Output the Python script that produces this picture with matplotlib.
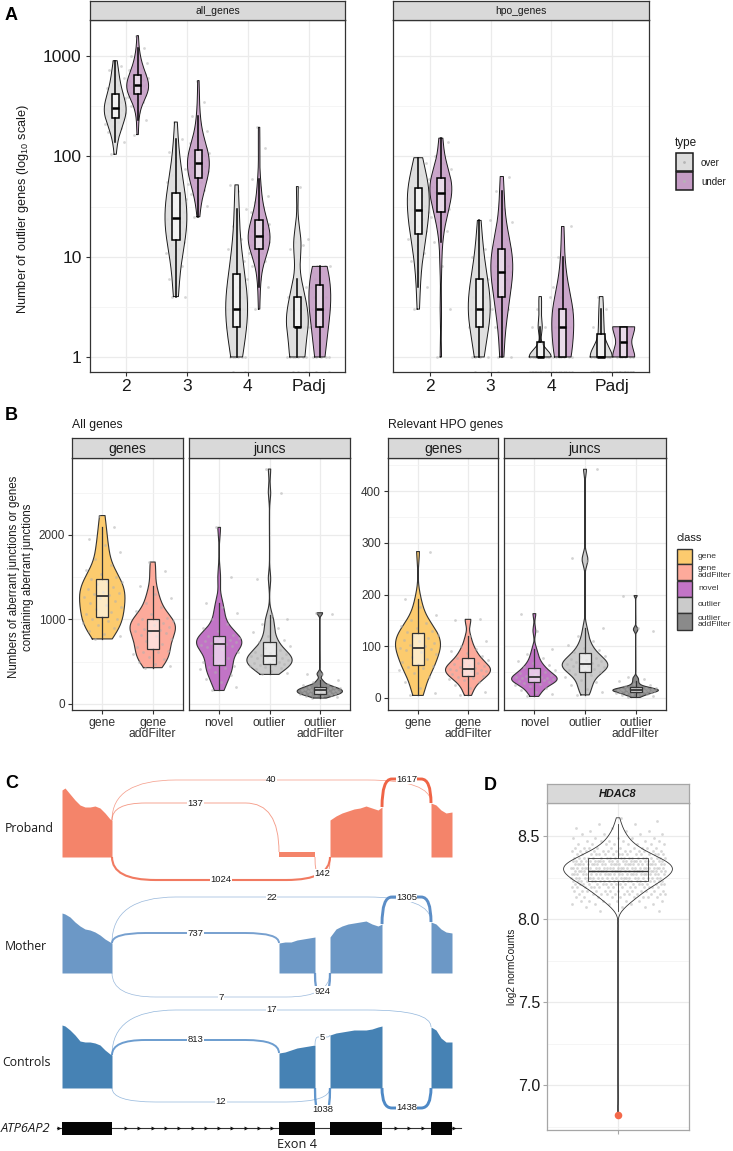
import numpy as np
import matplotlib
matplotlib.use("Agg")
import matplotlib.pyplot as plt
from matplotlib.patches import Rectangle, PathPatch
from matplotlib.path import Path
from matplotlib.ticker import FuncFormatter

plt.rcParams['font.family'] = ['Liberation Sans', 'DejaVu Sans']
plt.rcParams['mathtext.fontset'] = 'custom'
plt.rcParams['mathtext.rm'] = 'Liberation Sans'

W, H = 733, 1151

# ---------------- data: panel A (number of outlier genes per sample) ----------------
cutoffs = ['2', '3', '4', 'Padj']
all_genes_over = [
    [105, 140, 160, 175, 190, 200, 210, 220, 230, 240, 245, 250, 260, 265, 270, 280, 285, 290, 295, 300,
     305, 310, 320, 330, 340, 350, 360, 380, 400, 420, 430, 450, 480, 520, 560, 600, 650, 720, 800, 900],
    [4, 4, 5, 6, 8, 10, 11, 12, 13, 14, 15, 16, 17, 18, 19, 20, 21, 22, 23, 24,
     25, 26, 28, 30, 32, 34, 36, 38, 40, 42, 45, 50, 55, 60, 65, 75, 90, 110, 150, 220],
    [0, 0, 1, 1, 1, 1, 1, 1, 2, 2, 2, 2, 2, 2, 2, 3, 3, 3, 3, 3,
     3, 3, 4, 4, 4, 5, 5, 5, 6, 6, 7, 8, 9, 10, 12, 15, 20, 30, 45, 52],
    [0, 0, 0, 1, 1, 1, 1, 1, 1, 1, 2, 2, 2, 2, 2, 2, 2, 2, 3, 3, 3, 3, 4, 4, 4, 5, 6, 12, 13, 14, 15, 50],
]
all_genes_under = [
    [165, 230, 280, 320, 350, 370, 390, 400, 405, 410, 420, 430, 445, 460, 470, 480, 490, 500, 505, 510,
     515, 520, 530, 545, 560, 575, 590, 610, 630, 650, 660, 690, 720, 760, 800, 850, 920, 1000, 1200, 1600],
    [25, 32, 38, 42, 46, 50, 53, 55, 58, 60, 62, 65, 68, 70, 72, 75, 78, 80, 82, 85,
     87, 90, 93, 96, 100, 103, 106, 109, 112, 115, 120, 128, 135, 145, 160, 180, 210, 250, 350, 570],
    [3, 5, 6, 8, 9, 10, 11, 11, 12, 12, 12, 13, 13, 14, 14, 15, 15, 15, 16, 16,
     16, 17, 17, 18, 18, 19, 20, 21, 22, 23, 24, 26, 28, 31, 35, 40, 50, 60, 120, 195],
    [0, 0, 1, 1, 1, 1, 1, 2, 2, 2, 2, 2, 3, 3, 3, 3, 3, 4, 4, 4, 5, 5, 5, 6, 6, 7, 7, 8, 8, 8],
]
hpo_genes_over = [
    [3, 5, 7, 9, 11, 13, 15, 16, 17, 18, 20, 22, 24, 26, 28, 29, 30, 32, 35, 38,
     40, 44, 47, 48, 50, 52, 55, 60, 65, 75, 85, 97],
    [0, 0, 1, 1, 1, 1, 2, 2, 2, 2, 2, 2, 3, 3, 3, 3, 3, 4, 4, 4, 5, 5, 6, 6, 6, 8, 10, 12, 15, 23],
    [0] * 13 + [1] * 11 + [2, 2, 3, 4],
    [0] * 14 + [1] * 10 + [2, 2, 3, 4],
]
hpo_genes_under = [
    [1, 3, 8, 14, 18, 22, 25, 27, 28, 30, 33, 36, 38, 40, 42, 43, 44, 46, 48, 50,
     53, 56, 58, 60, 62, 65, 70, 75, 85, 100, 140, 152],
    [0, 1, 1, 2, 2, 3, 3, 3, 4, 4, 5, 5, 6, 6, 7, 7, 7, 8, 8, 9,
     10, 10, 11, 12, 12, 13, 15, 18, 22, 30, 45, 63],
    [0] * 8 + [1] * 7 + [2] * 6 + [3] * 5 + [4, 5, 6, 10, 20],
    [0] * 16 + [1] * 6 + [2] * 6,
]

# ---------------- data: panel B (aberrant junctions / genes per sample) ----------------
b_classes = ['gene', 'gene\naddFilter', 'novel', 'outlier', 'outlier\naddFilter']
b_all_genes = [
    [770, 800, 830, 860, 900, 930, 960, 980, 1000, 1010, 1030, 1060, 1090, 1120, 1150, 1170, 1190, 1220, 1250, 1270,
     1290, 1300, 1310, 1330, 1360, 1390, 1420, 1440, 1460, 1480, 1500, 1540, 1580, 1640, 1720, 1800, 1880, 1950, 2100, 2230],
    [430, 450, 470, 500, 530, 560, 590, 610, 620, 630, 650, 680, 710, 740, 770, 800, 820, 840, 850, 860,
     870, 890, 910, 930, 950, 960, 970, 980, 990, 1000, 1020, 1060, 1100, 1150, 1200, 1250, 1300, 1400, 1570, 1680],
    [160, 200, 260, 300, 340, 380, 410, 430, 440, 450, 470, 500, 540, 580, 620, 650, 670, 690, 700, 700,
     710, 720, 730, 740, 750, 760, 770, 780, 790, 800, 820, 860, 900, 950, 1000, 1080, 1150, 1200, 1500, 2090],
    [350, 370, 390, 410, 430, 440, 450, 460, 465, 470, 480, 490, 500, 510, 520, 530, 540, 550, 560, 570,
     575, 580, 590, 600, 620, 640, 660, 690, 710, 730, 760, 800, 850, 900, 950, 1000, 1050, 1480, 2500, 2780],
    [70, 80, 90, 100, 105, 110, 115, 118, 120, 122, 125, 130, 135, 140, 145, 150, 152, 155, 158, 160,
     162, 165, 170, 175, 180, 185, 190, 195, 198, 200, 205, 215, 225, 240, 260, 280, 350, 360, 1070, 1080],
]
b_hpo_genes = [
    [5, 10, 20, 30, 40, 48, 55, 58, 60, 62, 65, 70, 75, 80, 85, 88, 92, 95, 96, 97,
     100, 103, 106, 110, 113, 116, 119, 122, 125, 127, 130, 135, 140, 145, 150, 160, 175, 192, 283],
    [5, 12, 20, 25, 30, 34, 37, 39, 41, 42, 44, 46, 48, 50, 52, 53, 54, 55, 56, 57,
     58, 60, 62, 64, 66, 68, 70, 73, 76, 78, 82, 86, 90, 95, 100, 110, 120, 150, 152],
    [3, 8, 12, 16, 20, 23, 26, 28, 29, 30, 31, 33, 34, 35, 36, 37, 38, 39, 40, 40,
     41, 43, 45, 47, 49, 51, 53, 55, 58, 60, 63, 67, 72, 78, 85, 95, 130, 163],
    [6, 12, 18, 25, 30, 35, 40, 44, 47, 50, 52, 54, 56, 58, 60, 61, 62, 63, 64, 65,
     67, 69, 71, 73, 75, 77, 79, 82, 85, 88, 92, 97, 103, 110, 120, 135, 265, 270, 442],
    [1, 3, 5, 6, 7, 8, 9, 10, 10, 11, 12, 12, 13, 13, 14, 14, 15, 15, 15, 16,
     16, 17, 17, 18, 18, 19, 20, 20, 21, 23, 25, 28, 32, 36, 40, 130, 135, 198],
]

# ---------------- data: panel C (sashimi plot ATP6AP2) ----------------
exon_start = [62, 279, 330, 431]
exon_end = [112, 315, 382, 452]
cov_pos = [
    [62, 65, 70, 75, 80, 85, 90, 95, 100, 105, 110, 112],
    [279, 285, 291, 297, 303, 309, 315],
    [330, 336, 342, 348, 354, 360, 366, 372, 378, 382],
    [431, 436, 441, 446, 452],
]
cov_proband = [
    [67, 69, 63, 57, 52, 50, 50, 51, 49, 44, 38, 37],
    [5, 5, 5, 5, 5, 5, 5],
    [37, 41, 44, 46, 48, 49, 51, 49, 47, 50],
    [54, 52, 47, 44, 45],
]
cov_mother = [
    [60, 59, 56, 51, 47, 44, 43, 41, 38, 34, 31, 30],
    [30, 31, 31, 33, 34, 35, 36],
    [36, 44, 47, 49, 50, 51, 52, 49, 47, 49],
    [51, 49, 44, 41, 40],
]
cov_controls = [
    [63, 62, 58, 53, 47, 46, 46, 45, 43, 38, 34, 33],
    [35, 36, 38, 40, 41, 42, 43],
    [53, 55, 56, 57, 58, 58, 58, 59, 61, 62],
    [61, 58, 50, 46, 46],
]
junc_proband = [(112, 431, 40), (112, 279, 137), (382, 431, 1617), (112, 330, 1024), (315, 330, 142)]
junc_mother = [(112, 431, 22), (112, 279, 737), (382, 431, 1305), (112, 330, 7), (315, 330, 924)]
junc_controls = [(112, 431, 17), (112, 279, 813), (315, 330, 5), (112, 330, 12), (315, 330, 1038), (382, 431, 1438)]
# arc heights (layout, positive = above the track)
arc_lvl_proband = [77, 54, 78, -23, -17]
arc_lvl_mother = [76, 40, 76, -24, -18]
arc_lvl_controls = [78, 48, 51, -14, -22, -20]

# ---------------- data: panel D (HDAC8 expression) ----------------
hdac8_values = [8.05, 8.07, 8.09, 8.11, 8.13, 8.15, 8.17, 8.19, 8.21, 8.23, 8.25, 8.27, 8.29, 8.31, 8.33,
                8.35, 8.37, 8.39, 8.41, 8.43, 8.45, 8.47, 8.49, 8.51, 8.53, 8.55, 8.57, 8.59, 8.61]
hdac8_counts = [2, 3, 5, 7, 9, 11, 13, 15, 18, 21, 23, 25, 27, 27, 26,
                23, 20, 16, 13, 10, 8, 6, 5, 4, 3, 2, 2, 1, 1]
hdac8_proband = 6.82


fig = plt.figure(figsize=(W / 100, H / 100), dpi=100)


def frect(x0, y0, x1, y1):
    return [x0 / W, 1 - y1 / H, (x1 - x0) / W, (y1 - y0) / H]


def ftext(x, y, s, **kw):
    fig.text(x / W, 1 - y / H, s, **kw)


def strip(x0, y0, x1, y1, label, size, edge='#333333', **kw):
    s = fig.add_axes(frect(x0, y0, x1, y1))
    s.set_facecolor('#D9D9D9')
    s.set_xticks([])
    s.set_yticks([])
    for sp in s.spines.values():
        sp.set_color(edge)
        sp.set_linewidth(0.9)
    s.text(0.5, 0.45, label, ha='center', va='center', fontsize=size,
           color='#1A1A1A', transform=s.transAxes, **kw)


def panel(ax, edge='#333333'):
    for sp in ax.spines.values():
        sp.set_color(edge)
        sp.set_linewidth(0.9)
    ax.grid(True, which='major', color='#EBEBEB', lw=0.9)
    ax.grid(True, which='minor', axis='y', color='#F2F2F2', lw=0.5)
    ax.set_axisbelow(True)
    ax.tick_params(which='major', length=3, width=0.8, color='#333333', pad=2)
    ax.tick_params(which='minor', length=0)


def nrd0(v):
    sd = v.std(ddof=1) if len(v) > 1 else 0.0
    q75, q25 = np.percentile(v, [75, 25])
    lo = min(sd, (q75 - q25) / 1.34)
    if lo <= 0:
        lo = sd if sd > 0 else 1.0
    return 0.9 * lo * len(v) ** -0.2


def violin(ax, x, v, hw, face, alpha, edge, lw, adjust=1.0):
    v = np.asarray(v, float)
    yy = np.linspace(v.min(), v.max(), 512)
    bw = nrd0(v) * adjust
    d = np.exp(-0.5 * ((yy[:, None] - v[None, :]) / bw) ** 2).sum(axis=1)
    w = hw * d / d.max()
    ax.fill_betweenx(yy, x - w, x + w, facecolor=face, alpha=alpha, lw=0, zorder=3)
    ax.plot(np.r_[x - w, (x + w)[::-1], x - w[0]], np.r_[yy, yy[::-1], yy[0]],
            color=edge, lw=lw, zorder=3.5)


def box(ax, x, v, width, edge, lw, med_lw, fill=(1, 1, 1, 0.6)):
    ax.boxplot([v], positions=[x], widths=width, whis=1.5, showfliers=False, showcaps=False,
               patch_artist=True, manage_ticks=False, zorder=4,
               boxprops=dict(facecolor=fill, edgecolor=edge, linewidth=lw),
               whiskerprops=dict(color=edge, linewidth=lw),
               medianprops=dict(color=edge, linewidth=med_lw))


def jitter(n, center, spread):
    return center + ((np.arange(n) * 0.6180339887 + 0.31) % 1 - 0.5) * 2 * spread


# ======================= panel A =======================
over_col, under_col = '#DCDCDC', '#C59CC5'
ylo, yhi = -0.15, 3.36
for x0, x1, name, over, under, adj in [(90, 345, 'all_genes', all_genes_over, all_genes_under, 1.5),
                                       (393, 649, 'hpo_genes', hpo_genes_over, hpo_genes_under, 1.25)]:
    ax = fig.add_axes(frect(x0, 20, x1, 372))
    strip(x0, 1, x1, 20, name, 7.5)
    panel(ax)
    ax.set_xlim(0.4, 4.6)
    ax.set_ylim(ylo, yhi)
    ax.set_xticks(range(1, 5))
    ax.set_xticklabels(cutoffs, fontsize=12.5, color='#1A1A1A')
    ax.set_yticks([0, 1, 2, 3])
    ax.set_yticks([0.5, 1.5, 2.5], minor=True)
    ax.yaxis.set_major_formatter(FuncFormatter(lambda v, p: f'{10 ** v:g}'))
    ax.tick_params(axis='y', labelsize=12.5, labelcolor='#1A1A1A', pad=3)
    if name == 'hpo_genes':
        ax.tick_params(axis='y', left=False, labelleft=False)
    for i in range(4):
        for off, vals, col in [(-0.185, over[i], over_col), (0.185, under[i], under_col)]:
            arr = np.asarray(vals, float)
            ly = np.log10(arr[arr > 0])
            nz = int((arr == 0).sum())
            xc = i + 1 + off
            ax.scatter(jitter(len(ly), xc, 0.17), ly, s=4, color='#B5B5B5', alpha=0.55,
                       lw=0, zorder=2.5)
            if nz:
                ax.scatter(jitter(nz, xc, 0.17), np.full(nz, ylo), s=4, color='#B5B5B5',
                           alpha=0.55, lw=0, zorder=2.5)
            violin(ax, xc, ly, 0.18, col, 0.9, '#1A1A1A', 0.7, adjust=adj)
            box(ax, xc, ly, 0.12, '#000000', 1.1, 1.8)

ftext(23, 209, 'Number of outlier genes (log$_{10}$ scale)', rotation=90, ha='center',
      va='center', fontsize=9.2, color='#1A1A1A')

# legend A
lg = fig.add_axes(frect(660, 130, 733, 200))
lg.set_xlim(660, 733)
lg.set_ylim(200, 130)
lg.axis('off')
lg.text(675, 143, 'type', fontsize=8.5, va='center', color='#1A1A1A')
for yk, col, lab in [(153, over_col, 'over'), (172, under_col, 'under')]:
    lg.add_patch(Rectangle((675.5, yk), 17, 18, facecolor=col, edgecolor='#1A1A1A', lw=1.1))
    lg.scatter([684], [yk + 9], s=4, color='#B5B5B5', lw=0, zorder=3)
    lg.text(701, yk + 10, lab, fontsize=7, va='center', color='#1A1A1A')

# ======================= panel B =======================
b_colors = ['#FCCB6E', '#FDAA9B', '#C274C6', '#CBCBCB', '#8A8A8A']
b_layout = [
    (b_all_genes, 'All genes', [(72, 183, 'genes', [0, 1]), (189, 350, 'juncs', [2, 3, 4])],
     (-71, 2911), [0, 1000, 2000], [500, 1500, 2500]),
    (b_hpo_genes, 'Relevant HPO genes', [(388, 498, 'genes', [0, 1]), (504, 666, 'juncs', [2, 3, 4])],
     (-23.2, 463.8), [0, 100, 200, 300, 400], [50, 150, 250, 350, 450]),
]
for data, title, facets, ylim, majors, minors in b_layout:
    ftext(facets[0][0], 425, title, fontsize=8.8, va='center', ha='left', color='#1A1A1A')
    for k, (x0, x1, fname, idx) in enumerate(facets):
        ax = fig.add_axes(frect(x0, 458, x1, 710))
        strip(x0, 438, x1, 458, fname, 10)
        panel(ax)
        ax.set_xlim(0.4, len(idx) + 0.6)
        ax.set_ylim(*ylim)
        ax.set_yticks(majors)
        ax.set_yticks(minors, minor=True)
        ax.set_xticks(range(1, len(idx) + 1))
        ax.set_xticklabels([b_classes[j] for j in idx], fontsize=8.7, color='#333333',
                           linespacing=0.95)
        ax.tick_params(axis='y', labelsize=8.5, labelcolor='#333333')
        if k == 1:
            ax.tick_params(axis='y', left=False, labelleft=False)
        for p, j in enumerate(idx):
            v = np.asarray(data[j], float)
            ax.scatter(jitter(len(v), p + 1, 0.4), v, s=4, color='#B0B0B0', alpha=0.55,
                       lw=0, zorder=3.8)
            violin(ax, p + 1, v, 0.45, b_colors[j], 1.0, '#333333', 0.8)
            box(ax, p + 1, v, 0.24, '#333333', 0.9, 1.3)

ftext(21, 577, 'Numbers of aberrant junctions or genes\ncontaining aberrant junctions',
      rotation=90, ha='center', va='center', fontsize=8.3, color='#1A1A1A', linespacing=1.15)

lg = fig.add_axes(frect(660, 525, 733, 640))
lg.set_xlim(660, 733)
lg.set_ylim(640, 525)
lg.axis('off')
lg.text(676, 538, 'class', fontsize=8, va='center', color='#1A1A1A')
key_rows = [(549, 564), (564, 580), (581, 597), (597, 613), (613, 630)]
for (ya, yb), col, lab in zip(key_rows, b_colors, b_classes):
    lg.add_patch(Rectangle((677, ya), 15, yb - ya - 0.5, facecolor=col, edgecolor='#333333', lw=1.0))
    lg.text(698, (ya + yb) / 2, lab, fontsize=6.1, va='center', color='#333333', linespacing=0.95)

# ======================= panel C =======================
tracks = [
    ('Proband', 857, 29, cov_proband, junc_proband, arc_lvl_proband, '#F4846A', '#EF6446'),
    ('Mother', 973, 26, cov_mother, junc_mother, arc_lvl_mother, '#6C98C6', '#5B8DC6'),
    ('Controls', 1088, 26, cov_controls, junc_controls, arc_lvl_controls, '#4682B4', '#4E89C6'),
]


def cov_at(x, cov):
    for pos, h in zip(cov_pos, cov):
        if pos[0] <= x <= pos[-1]:
            return float(np.interp(x, pos, h))
    return 0.0


for label, base, ly, cov, juncs, lvls, fcol, acol in tracks:
    ax = fig.add_axes(frect(0, base - 90, 480, base + 35))
    ax.set_xlim(0, 480)
    ax.set_ylim(-35, 90)
    ax.axis('off')
    for pos, h in zip(cov_pos, cov):
        ax.fill_between(pos, 0, h, color=fcol, lw=0, zorder=2)
    cmax = max(c for _, _, c in juncs)
    for (a, b, c), lvl in zip(juncs, lvls):
        if lvl > 0:
            y0, y1 = cov_at(a, cov), cov_at(b, cov)
        else:
            y0 = y1 = 0.0
        r = 0.2 * (b - a)
        verts = [(a, y0), (a, lvl), (a + r, lvl), (b - r, lvl), (b, lvl), (b, y1)]
        codes = [Path.MOVETO, Path.CURVE3, Path.CURVE3, Path.LINETO, Path.CURVE3, Path.CURVE3]
        lw = 0.5 + 1.6 * c / cmax
        ax.add_patch(PathPatch(Path(verts, codes), facecolor='none', edgecolor=acol, lw=lw,
                               alpha=0.6 + 0.4 * c / cmax, zorder=3, capstyle='butt'))
        ax.text((a + b) / 2, lvl, str(c), ha='center', va='center', fontsize=6.8,
                color='#1A1A1A', zorder=5,
                bbox=dict(facecolor='white', edgecolor='none', pad=0.3))
    ax.text(5 if label != 'Controls' else 2, ly, label, fontsize=8.8, va='center',
            ha='left', family=['Open Sans', 'DejaVu Sans'], color='#1A1A1A')

gm = fig.add_axes(frect(0, 1112, 480, 1151))
gm.set_xlim(0, 480)
gm.set_ylim(1151, 1112)
gm.axis('off')
gm.plot([57, 461], [1128, 1128], color='#333333', lw=0.8, zorder=1)
arrow_x = [58.5] + list(np.arange(126, 275, 13.3)) + list(np.arange(396, 428, 13.4)) + [453.5]
gm.scatter(arrow_x, np.full(len(arrow_x), 1128), marker='>', s=8, color='#111111', lw=0, zorder=2)
for a, b in zip(exon_start, exon_end):
    gm.add_patch(Rectangle((a, 1122), b - a, 12.5, facecolor='#050505', edgecolor='none', zorder=3))
gm.text(50, 1128, 'ATP6AP2', ha='right', va='center', fontsize=9.3, style='italic',
        family=['Open Sans', 'DejaVu Sans'], color='#1A1A1A')
gm.text((exon_start[1] + exon_end[1]) / 2, 1145, 'Exon 4', ha='center', va='center',
        fontsize=9.2, family=['Open Sans', 'DejaVu Sans'], color='#1A1A1A')

# ======================= panel D =======================
axd = fig.add_axes(frect(547, 803, 689, 1130))
strip(547, 784, 689, 803, 'HDAC8', 7.8, edge='#A6A6A6', fontweight='bold', style='italic')
panel(axd, edge='#A6A6A6')
axd.set_xlim(0.4, 1.6)
axd.set_ylim(6.729, 8.699)
axd.set_yticks([7.0, 7.5, 8.0, 8.5])
axd.set_yticks([6.75, 7.25, 7.75, 8.25], minor=True)
axd.set_yticklabels(['7.0', '7.5', '8.0', '8.5'])
axd.set_xticks([1])
axd.set_xticklabels([''])
axd.tick_params(axis='both', color='#A6A6A6', labelsize=11.5, labelcolor='#1A1A1A')
cohort = np.repeat(hdac8_values, hdac8_counts)
axd.scatter(jitter(len(cohort), 1, 0.4), cohort, s=4, color='#BDBDBD', alpha=0.6, lw=0, zorder=2.5)
vals_d = np.r_[cohort, hdac8_proband]
violin(axd, 1, vals_d, 0.46, 'white', 0.0, '#333333', 0.6)
box(axd, 1, vals_d, 0.5, '#333333', 0.6, 1.0, fill='none')
axd.scatter([1], [hdac8_proband], s=30, color='#F4694A', lw=0, zorder=6)
ftext(512, 967, 'log2 normCounts', rotation=90, ha='center', va='center', fontsize=7.2,
      color='#1A1A1A')

# panel letters
for x, y, s in [(5, 16, 'A'), (5, 415, 'B'), (5, 784, 'C'), (484, 785, 'D')]:
    ftext(x, y, s, fontsize=13, fontweight='bold', va='center', ha='left')

fig.savefig('out.png', dpi=100)
